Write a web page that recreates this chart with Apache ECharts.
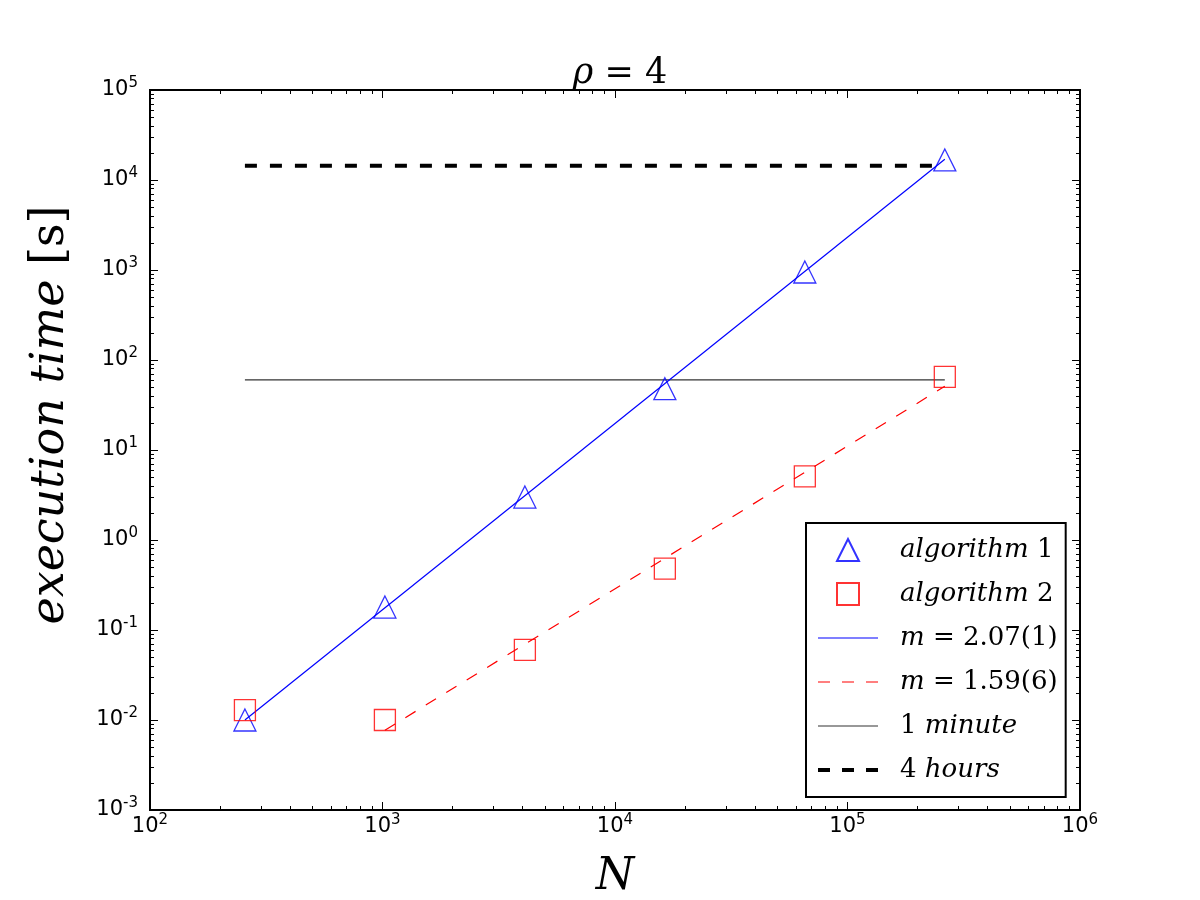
<!DOCTYPE html>
<html>
<head>
<meta charset="UTF-8">
<title>rho = 4</title>
<script src="https://cdn.jsdelivr.net/npm/echarts@6/dist/echarts.min.js"></script>
<style>
    html, body { margin: 0; padding: 0; background: #fff; }
    #chart { width: 1200px; height: 900px; }
</style>
</head>
<body>
<div id="chart"></div>
<script>
    // measured points (N, seconds)
    var N = [256, 1024, 4096, 16384, 65536, 262144];
    var alg1 = [0.0100, 0.18, 3.0, 48, 950, 16700];
    var alg2 = [0.0129, 0.0100, 0.060, 0.48, 5.1, 65];
    // fitted power laws, end points
    var fit1 = [[256, 0.0100], [262144, 17000]];
    var fit2 = [[1024, 0.0077], [262144, 51]];
    // reference levels
    var oneMinute = [[256, 60], [262144, 60]];
    var fourHours = [[256, 14400], [262144, 14400]];
    // ticks
    var xMajor = [1e2, 1e3, 1e4, 1e5, 1e6];
    var yMajor = [1e-3, 1e-2, 1e-1, 1e0, 1e1, 1e2, 1e3, 1e4, 1e5];
    var minorSteps = [2, 3, 4, 5, 6, 7, 8, 9];

    var names = {
        a1: 'algorithm 1', a2: 'algorithm 2',
        f1: 'm = 2.07(1)', f2: 'm = 1.59(6)',
        min: '1 minute', hrs: '4 hours'
    };
    var legendRich = {};
    legendRich[names.a1] = '{i|algorithm} {r|1}';
    legendRich[names.a2] = '{i|algorithm} {r|2}';
    legendRich[names.f1] = '{i|m} {r|= 2.07(1)}';
    legendRich[names.f2] = '{i|m} {r|= 1.59(6)}';
    legendRich[names.min] = '{r|1} {i|minute}';
    legendRich[names.hrs] = '{r|4} {i|hours}';

    // legend glyphs (60 x 22 slot, aspect kept)
    var icons = {
        triangle: 'path://M0,22 L11,0 L22,22 Z',
        square: 'path://M0,0 H21 V21 H0 Z',
        thin: 'path://M0,0 H60 V1.2 H0 Z',
        thinDash: 'path://M0,0 H12 V1.2 H0 Z M24,0 H36 V1.2 H24 Z M48,0 H60 V1.2 H48 Z',
        thickDash: 'path://M0,0 H12 V4 H0 Z M24,0 H36 V4 H24 Z M48,0 H60 V4 H48 Z'
    };
    function solidIcon(color) {
        return { color: color, borderWidth: 0, borderColor: 'none', opacity: 1 };
    }

    function minors(major) {
        var out = [];
        for (var i = 0; i < major.length - 1; i++) {
            minorSteps.forEach(function (m) { out.push(+(major[i] * m).toPrecision(3)); });
        }
        return out;
    }

    function pair(xs, ys) {
        return xs.map(function (x, i) { return [x, ys[i]]; });
    }

    var serif = 'DejaVu Serif';
    var sans = 'DejaVu Sans';

    var tickLabel = {
        show: true,
        fontFamily: sans,
        fontSize: 21,
        color: '#000',
        lineHeight: 22,
        formatter: function (v) {
            return '10{s|' + Math.round(Math.log10(v)) + '}';
        },
        rich: {
            s: { fontFamily: sans, fontSize: 15, color: '#000', padding: [0, 0, 14, 0] }
        }
    };

    function axis(dim, pos, ticks, len, label) {
        var major = dim === 'x' ? xMajor : yMajor;
        var a = {
            type: 'log',
            gridIndex: 0,
            position: pos,
            min: major[0],
            max: major[major.length - 1],
            axisLine: { show: false },
            splitLine: { show: false },
            axisTick: {
                show: true, inside: true, length: len, customValues: ticks,
                lineStyle: { color: '#000', width: 1 }
            },
            axisLabel: { show: false }
        };
        if (label) {
            a.axisLabel = Object.assign({ customValues: major }, tickLabel, label);
        }
        return a;
    }

    var xAxes = [
        axis('x', 'bottom', xMajor, 8, { margin: 6 }),
        axis('x', 'bottom', minors(xMajor), 4),
        axis('x', 'top', xMajor, 8),
        axis('x', 'top', minors(xMajor), 4)
    ];
    xAxes[0].name = 'N';
    xAxes[0].nameLocation = 'middle';
    xAxes[0].nameGap = 46;
    xAxes[0].nameTextStyle = { fontFamily: serif, fontStyle: 'italic', fontSize: 44, color: '#000' };

    var yAxes = [
        axis('y', 'left', yMajor, 8, { margin: 12 }),
        axis('y', 'left', minors(yMajor), 4),
        axis('y', 'right', yMajor, 8),
        axis('y', 'right', minors(yMajor), 4)
    ];
    yAxes[0].name = '{i|execution time} {r|[s]}';
    yAxes[0].nameLocation = 'middle';
    yAxes[0].nameGap = 76;
    yAxes[0].nameTextStyle = {
        fontFamily: serif, fontSize: 46, color: '#000',
        padding: [0, 0, 0, 70],
        rich: {
            i: { fontFamily: serif, fontStyle: 'italic', fontSize: 46, color: '#000' },
            r: { fontFamily: serif, fontSize: 46, color: '#000' }
        }
    };

    var chart = echarts.init(document.getElementById('chart'), null, { renderer: 'canvas' });

    chart.setOption({
        animation: false,
        backgroundColor: '#fff',
        title: {
            text: '{i|ρ} = 4',
            left: 615,
            top: 51,
            textAlign: 'center',
            textStyle: {
                fontFamily: serif, fontSize: 35, fontWeight: 'normal', color: '#000',
                rich: { i: { fontFamily: serif, fontStyle: 'italic', fontSize: 35, color: '#000' } }
            }
        },
        grid: {
            left: 150, top: 90, width: 930, height: 720,
            show: true, borderColor: '#000', borderWidth: 2,
            backgroundColor: 'transparent',
            outerBoundsMode: 'none'
        },
        xAxis: xAxes,
        yAxis: yAxes,
        legend: {
            orient: 'vertical',
            left: 806,
            top: 523,
            padding: [12, 8, 12, 12],
            itemWidth: 60,
            itemHeight: 22,
            itemGap: 14,
            symbolKeepAspect: true,
            selectedMode: false,
            backgroundColor: '#fff',
            borderColor: '#000',
            borderWidth: 2,
            borderRadius: 0,
            data: [
                { name: names.a1, icon: icons.triangle },
                { name: names.a2, icon: icons.square },
                { name: names.f1, icon: icons.thin, itemStyle: solidIcon('#0000ff') },
                { name: names.f2, icon: icons.thinDash, itemStyle: solidIcon('#ff0000') },
                { name: names.min, icon: icons.thin, itemStyle: solidIcon('#333') },
                { name: names.hrs, icon: icons.thickDash, itemStyle: solidIcon('#000') }
            ],
            formatter: function (name) { return legendRich[name]; },
            textStyle: {
                fontFamily: serif, fontSize: 26, color: '#000', lineHeight: 30,
                padding: [0, 0, 0, 17],
                rich: {
                    i: { fontFamily: serif, fontStyle: 'italic', fontSize: 26, color: '#000', lineHeight: 30 },
                    r: { fontFamily: serif, fontSize: 26, color: '#000', lineHeight: 30 }
                }
            }
        },
        series: [
            {
                name: names.hrs, type: 'line', data: fourHours, symbol: 'none',
                itemStyle: { color: 'rgba(0,0,0,0)' },
                lineStyle: { color: '#000', width: 4, type: [12, 13] }, z: 2
            },
            {
                name: names.min, type: 'line', data: oneMinute, symbol: 'none',
                itemStyle: { color: 'rgba(0,0,0,0)' },
                lineStyle: { color: '#333', width: 1.2 }, z: 2
            },
            {
                name: names.f1, type: 'line', data: fit1, symbol: 'none',
                itemStyle: { color: 'rgba(0,0,0,0)' },
                lineStyle: { color: '#0000ff', width: 1.2 }, z: 3
            },
            {
                name: names.f2, type: 'line', data: fit2, symbol: 'none',
                itemStyle: { color: 'rgba(0,0,0,0)' },
                lineStyle: { color: '#ff0000', width: 1.2, type: [12, 12] }, z: 3
            },
            {
                name: names.a1, type: 'scatter', data: pair(N, alg1),
                symbol: 'triangle', symbolSize: 22,
                itemStyle: { color: 'rgba(0,0,0,0)', borderColor: '#0000ff', borderWidth: 1.3 }, z: 4
            },
            {
                name: names.a2, type: 'scatter', data: pair(N, alg2),
                symbol: 'rect', symbolSize: 21,
                itemStyle: { color: 'rgba(0,0,0,0)', borderColor: '#ff0000', borderWidth: 1.3 }, z: 4
            }
        ]
    });
</script>
</body>
</html>
